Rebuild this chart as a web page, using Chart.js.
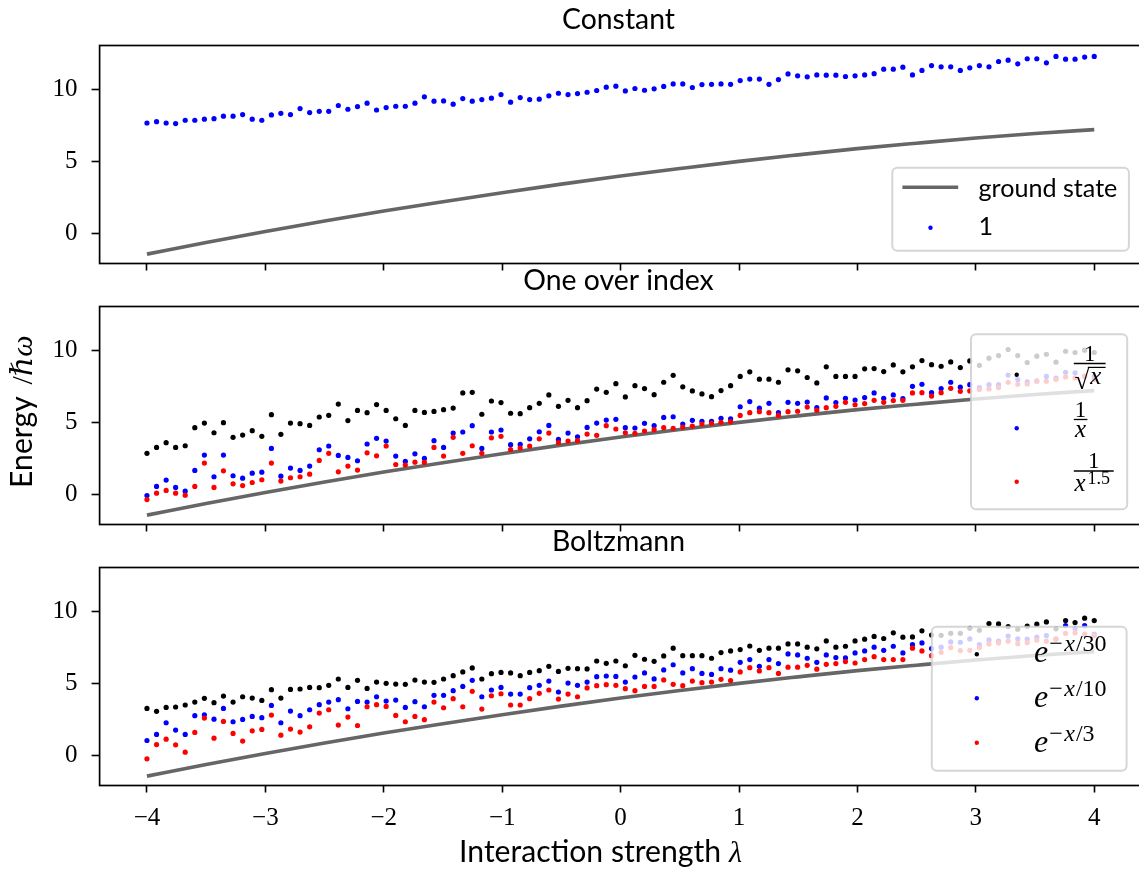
<!DOCTYPE html>
<html><head><meta charset="utf-8">
<script src="https://cdn.jsdelivr.net/npm/chart.js@4.4.0/dist/chart.umd.min.js"></script>
<style>
html,body{margin:0;padding:0;background:#fff;overflow:hidden;width:1139px;height:871px;}
canvas{position:absolute;left:0;top:0;}
</style></head><body>
<canvas id="c1" width="1145" height="871"></canvas>
<canvas id="c2" width="1145" height="871"></canvas>
<canvas id="c3" width="1145" height="871"></canvas>
<script>
// ---------------- data ----------------
const lambdaValues = [-4.000,-3.919,-3.838,-3.758,-3.677,-3.596,-3.515,-3.434,-3.354,-3.273,-3.192,-3.111,-3.030,-2.949,-2.869,-2.788,-2.707,-2.626,-2.545,-2.465,-2.384,-2.303,-2.222,-2.141,-2.061,-1.980,-1.899,-1.818,-1.737,-1.657,-1.576,-1.495,-1.414,-1.333,-1.253,-1.172,-1.091,-1.010,-0.929,-0.848,-0.768,-0.687,-0.606,-0.525,-0.444,-0.364,-0.283,-0.202,-0.121,-0.040,0.040,0.121,0.202,0.283,0.364,0.444,0.525,0.606,0.687,0.768,0.848,0.929,1.010,1.091,1.172,1.253,1.333,1.414,1.495,1.576,1.657,1.737,1.818,1.899,1.980,2.061,2.141,2.222,2.303,2.384,2.465,2.545,2.626,2.707,2.788,2.869,2.949,3.030,3.111,3.192,3.273,3.354,3.434,3.515,3.596,3.677,3.758,3.838,3.919,4.000];

const groundX = [-4,-3.5,-3,-2.5,-2,-1.5,-1,-0.5,0,0.5,1,1.5,2,2.5,3,3.5,4];
const groundState = [-1.43,-0.63,0.14,0.87,1.56,2.2,2.82,3.42,3.98,4.5,5.0,5.45,5.88,6.26,6.62,6.93,7.2];

const constantOne = [7.66,7.75,7.66,7.62,7.85,7.85,7.92,7.96,8.13,8.13,8.24,7.92,7.85,8.22,8.33,8.24,8.66,8.38,8.47,8.47,8.87,8.61,8.80,9.03,8.56,8.73,8.82,8.82,9.03,9.47,9.17,9.19,8.96,9.35,9.17,9.28,9.38,9.63,9.10,9.42,9.28,9.31,9.54,9.72,9.63,9.70,9.79,9.91,10.14,
10.21,9.88,10.05,9.93,10.03,10.19,10.37,10.37,10.12,10.32,10.34,10.37,10.34,10.60,10.70,10.70,10.34,10.67,11.06,10.93,10.86,10.99,10.97,10.97,10.88,10.93,10.99,11.08,11.39,11.39,11.53,10.99,11.30,11.64,11.55,11.55,11.30,11.48,11.64,11.55,11.92,12.01,11.76,12.11,12.11,11.83,12.27,12.08,12.08,12.23,12.27];

const invSqrtX = [2.85,3.26,3.59,3.26,3.38,4.63,4.95,4.28,4.98,3.96,4.12,4.42,4.03,5.53,4.17,4.95,4.91,4.79,5.37,5.49,6.27,5.12,5.83,5.67,6.23,5.83,5.25,4.79,5.83,5.69,5.76,5.88,5.99,7.04,7.08,5.56,6.48,6.37,5.63,5.60,6.02,6.32,6.90,6.11,6.53,6.02,6.50,7.31,7.08,
7.68,6.76,7.54,7.34,6.92,7.78,8.26,7.46,7.18,6.97,6.78,7.20,7.54,8.18,8.50,7.99,7.99,7.78,8.64,8.57,8.11,7.73,8.85,8.18,8.18,8.18,8.71,8.73,8.52,8.98,8.50,8.85,9.28,9.00,8.89,9.19,8.80,9.26,8.95,9.45,9.63,10.05,9.63,9.14,9.59,9.72,9.17,9.93,9.84,10.0,9.84];

const invX = [-0.07,0.56,1.00,0.49,0.23,1.67,2.73,1.23,2.73,1.30,1.13,1.48,1.55,3.19,1.27,1.83,1.67,1.97,3.10,3.36,2.71,2.57,2.34,3.50,3.89,3.70,2.66,2.29,2.82,2.50,3.73,3.26,4.26,4.33,4.77,3.19,4.33,4.47,3.45,3.47,3.86,4.35,4.79,3.82,4.26,4.00,4.65,4.95,5.16,
5.21,4.63,4.61,4.93,4.77,5.34,5.39,4.88,5.14,5.07,5.07,5.28,5.24,6.08,6.44,5.98,6.32,5.67,6.39,6.32,6.41,6.02,6.69,6.37,6.67,6.55,6.72,7.04,6.67,6.90,6.65,7.50,7.64,7.06,7.34,7.78,7.44,7.61,7.41,7.61,7.61,8.28,7.97,7.80,7.87,8.18,8.06,8.47,8.43,8.21,8.18];

const invX15 = [-0.35,0.09,0.28,0.09,-0.05,0.56,2.18,0.49,1.64,0.74,0.62,0.83,1.02,2.18,0.93,1.16,1.23,1.41,2.36,2.85,1.57,1.97,1.69,2.89,2.68,3.36,2.08,2.04,2.24,2.22,3.26,2.66,3.96,2.85,3.38,2.85,3.93,4.03,3.12,3.22,3.36,3.86,4.26,3.59,3.70,3.73,4.19,4.10,4.77,
4.54,4.28,4.24,4.40,4.49,4.63,4.59,4.67,4.74,4.88,4.93,5.00,5.05,5.48,5.67,5.74,5.67,5.48,5.74,5.77,6.06,5.84,6.02,6.11,6.39,6.22,6.30,6.53,6.39,6.51,6.53,7.04,7.06,6.82,7.06,7.36,7.15,7.18,7.27,7.32,7.41,7.78,7.64,7.66,7.85,7.85,7.97,8.15,8.08,8.18,7.97];

const boltz30 = [3.26,3.06,3.33,3.36,3.50,3.70,3.96,3.66,4.12,3.70,4.07,3.98,3.82,4.56,3.98,4.58,4.61,4.72,4.70,4.86,5.30,4.72,5.21,4.65,5.09,5.00,4.95,4.93,5.23,5.09,5.07,5.30,5.53,5.79,6.07,5.30,5.67,5.76,5.72,5.53,5.76,5.88,6.18,5.83,6.04,6.02,6.00,6.55,6.39,
6.55,6.22,6.94,6.67,6.53,6.90,7.44,6.92,6.92,6.92,6.74,7.13,7.25,7.34,7.59,7.29,7.44,7.44,7.73,7.73,7.51,7.39,7.94,7.51,7.57,7.94,8.06,8.25,8.11,8.50,8.20,8.22,8.64,8.35,8.33,8.47,8.47,8.82,8.68,9.14,9.12,8.94,8.75,8.96,9.10,9.26,8.78,9.35,9.21,9.52,9.35];

const boltz10 = [1.04,1.46,2.27,1.76,1.46,2.76,2.82,2.52,3.26,2.34,2.50,2.71,2.62,3.47,2.27,3.08,2.76,3.17,3.52,3.70,3.87,3.24,3.75,3.70,4.07,3.77,3.84,3.33,3.73,3.38,4.17,4.17,4.49,4.79,5.21,4.07,4.54,4.72,4.26,4.26,4.70,4.86,5.16,4.40,5.02,4.86,5.09,5.46,5.51,
5.48,5.09,5.44,5.72,5.31,5.93,6.29,5.72,6.02,5.69,5.62,6.02,5.91,6.46,6.65,6.18,6.65,6.37,7.04,6.97,6.74,6.46,6.97,6.79,6.76,7.11,7.25,7.51,7.29,7.57,7.11,7.68,7.80,7.41,7.51,7.87,7.85,8.08,7.68,8.01,7.92,8.28,8.08,8.06,8.20,8.31,8.08,9.00,8.78,9.00,8.42];

const boltz3 = [-0.23,0.76,1.13,0.74,0.23,1.60,2.59,1.20,2.36,1.53,1.00,1.71,1.81,2.80,1.41,1.83,1.62,1.99,2.94,3.17,2.11,2.66,2.08,3.38,3.52,3.40,2.78,2.34,2.71,2.48,3.70,3.31,3.94,3.38,4.45,3.22,4.14,4.28,3.50,3.50,3.94,4.31,4.54,3.91,4.26,4.07,4.68,4.84,4.91,
4.86,4.63,4.49,4.79,4.79,5.24,4.93,4.84,5.16,5.05,5.09,5.28,5.19,5.79,6.09,5.86,6.09,5.69,6.12,6.12,6.25,5.98,6.32,6.37,6.51,6.41,6.65,6.85,6.65,6.65,6.65,7.44,7.25,6.92,7.15,7.48,7.27,7.29,7.48,7.73,7.80,7.92,7.75,7.82,7.99,7.92,8.06,8.47,8.50,8.42,8.31];

const xTicks = [-4,-3,-2,-1,0,1,2,3,4];
const yTicks = [0,5,10];
const panelTitles = ['Constant','One over index','Boltzmann'];

// ---------------- layout / style ----------------
const CW = 1145, CH = 871;
const PANEL_TOP = [45.5, 306.5, 567.5];
const PANEL_H = 218;
const AX_LEFT = 99.6, AX_RIGHT = 1141.6;
const X_MIN = -4.4, X_MAX = 4.4;
const Y_MIN = -2.08, Y_MAX = 13.03;
const SANS = '"Lato", "Noto Sans", sans-serif';
const SERIF = '"Liberation Serif", "DejaVu Serif", serif';
const GREY = '#666666';

function fmt(v){ return v < 0 ? '\u2212' + Math.abs(v) : String(v); }
function pts(ys){ return lambdaValues.map((x,i)=>({x:x, y:ys[i]})); }
function dots(label, ys, color, order){
  return {label, data: pts(ys), showLine:false, pointRadius:2.6, pointHoverRadius:2.6,
          pointBorderWidth:0, backgroundColor:color, borderColor:color, order};
}
function groundDs(){
  return {label:'ground state', data: groundX.map((x,i)=>({x:x, y:groundState[i]})),
          borderColor:GREY, borderWidth:3.6, pointRadius:0, cubicInterpolationMode:'monotone',
          fill:false, order:10};
}

function fitSize(ctx, str, family, target, style){
  ctx.font = (style||'') + ' 100px ' + family;
  return 100 * target / ctx.measureText(str).width;
}

function legendBox(ctx, x, y, w, h){
  ctx.beginPath(); ctx.roundRect(x, y, w, h, 5);
  ctx.fillStyle = 'rgba(255,255,255,0.8)'; ctx.fill();
  ctx.strokeStyle = 'rgba(204,204,204,0.8)'; ctx.lineWidth = 2; ctx.stroke();
}
function dot(ctx, x, y, c){ ctx.beginPath(); ctx.arc(x, y, 2.2, 0, Math.PI*2); ctx.fillStyle = c; ctx.fill(); }
function put(ctx, s, x, y, font, align){
  ctx.font = font; ctx.textAlign = align || 'left'; ctx.textBaseline = 'alphabetic';
  ctx.fillStyle = '#000'; ctx.fillText(s, x, y); return ctx.measureText(s).width;
}
function hline(ctx, x1, x2, y, w){ ctx.strokeStyle='#000'; ctx.lineWidth=w||1.3; ctx.beginPath(); ctx.moveTo(x1,y); ctx.lineTo(x2,y); ctx.stroke(); }

const decor = {
  id: 'decor',
  afterDraw(chart, args, opts){
    const ctx = chart.ctx, a = chart.chartArea;
    ctx.save();
    ctx.strokeStyle = '#000'; ctx.lineWidth = 1.7;
    ctx.strokeRect(a.left, a.top, a.right - a.left, a.bottom - a.top);
    const ts = fitSize(ctx, 'Constant', SANS, 113);
    put(ctx, opts.title, 618.5, a.top - 16.2, ts + 'px ' + SANS, 'center');
    if (opts.legend) opts.legend(ctx);
    if (opts.extra) opts.extra(ctx);
    ctx.restore();
  }
};

function legend1(ctx){
  legendBox(ctx, 892.3, 167.7, 236.6, 83);
  ctx.strokeStyle = GREY; ctx.lineWidth = 3.6; ctx.beginPath(); ctx.moveTo(902.4,187.3); ctx.lineTo(958.2,187.3); ctx.stroke();
  const s = fitSize(ctx, 'ground state', SANS, 139);
  put(ctx, 'ground state', 978.5, 196.7, s + 'px ' + SANS);
  dot(ctx, 930.5, 227.7, '#0000ff');
  put(ctx, '1', 978.5, 235, s + 'px ' + SANS);
}
function legend2(ctx){
  legendBox(ctx, 971, 334.3, 156.2, 175);
  dot(ctx, 1016.7, 374.7, '#000000');
  dot(ctx, 1016.7, 428.3, '#0000ff');
  dot(ctx, 1016.7, 481.7, '#ff0000');
  const F = '23px ' + SERIF, FI = 'italic 25px ' + SERIF;
  // 1 / sqrt(x)
  put(ctx, '1', 1089.7, 360.5, F, 'center');
  hline(ctx, 1073.8, 1105.6, 363.5);
  const w = put(ctx, '\u221A', 1074.5, 388.5, '27px ' + SERIF);
  put(ctx, 'x', 1074.5 + w + 1, 384, FI);
  hline(ctx, 1074.5 + w - 1.5, 1105.6, 367.4, 1.2);
  // 1 / x
  put(ctx, '1', 1080.6, 416.7, F, 'center');
  hline(ctx, 1073.8, 1087.4, 419.5);
  put(ctx, 'x', 1080.6, 437, FI, 'center');
  // 1 / x^1.5
  put(ctx, '1', 1093.7, 468.3, F, 'center');
  hline(ctx, 1073.8, 1113.7, 471);
  const wx = put(ctx, 'x', 1074.5, 491, FI);
  put(ctx, '1.5', 1074.5 + wx + 2, 483.5, '18px ' + SERIF);
}
function expLabel(ctx, y, den){
  const we = put(ctx, 'e', 1034, y, 'italic 32px ' + SERIF);
  let x = 1034 + we + 1;
  const sf = '24px ' + SERIF, sfi = 'italic 24px ' + SERIF;
  x += put(ctx, '\u2212', x, y - 10.5, sf) + 1.5;
  x += put(ctx, 'x', x, y - 10.5, sfi) + 1;
  put(ctx, '/' + den, x, y - 10.5, sf);
}
function legend3(ctx){
  legendBox(ctx, 931.8, 626.7, 194.8, 144);
  dot(ctx, 976.8, 654.3, '#000000');
  dot(ctx, 976.8, 698.3, '#0000ff');
  dot(ctx, 976.8, 742.7, '#ff0000');
  expLabel(ctx, 661.7, '30');
  expLabel(ctx, 706.7, '10');
  expLabel(ctx, 751.7, '3');
}
function labelSize(ctx){
  ctx.font = '100px ' + SANS; const a = ctx.measureText('Interaction strength ').width;
  ctx.font = 'italic 100px ' + SERIF; const b = ctx.measureText('\u03BB').width;
  return 100 * 283 / (a + b);
}
function yLabel(ctx){
  const s = labelSize(ctx);
  ctx.save();
  ctx.translate(32.3, 411.7); ctx.rotate(-Math.PI/2);
  ctx.font = s + 'px ' + SANS; const w1 = ctx.measureText('Energy ').width + 4;
  ctx.font = s + 'px ' + SERIF; const w2 = ctx.measureText('/').width;
  ctx.font = 'italic ' + s + 'px ' + SERIF; const w3 = ctx.measureText('\u210F\u03C9').width;
  let x = -(w1 + w2 + w3) / 2;
  put(ctx, 'Energy ', x, 0, s + 'px ' + SANS); x += w1;
  x += put(ctx, '/', x, 0, s + 'px ' + SERIF);
  put(ctx, '\u210F\u03C9', x, 0, 'italic ' + s + 'px ' + SERIF);
  ctx.restore();
}
function xLabel(ctx){
  const s = labelSize(ctx);
  ctx.font = s + 'px ' + SANS; const w1 = ctx.measureText('Interaction strength ').width;
  ctx.font = 'italic ' + s + 'px ' + SERIF; const w2 = ctx.measureText('\u03BB').width;
  let x = 600.5 - (w1 + w2) / 2;
  x += put(ctx, 'Interaction strength ', x, 861.7, s + 'px ' + SANS);
  put(ctx, '\u03BB', x, 861.7, 'italic ' + s + 'px ' + SERIF);
}

function makeChart(id, idx, datasets, opts){
  const isBottom = idx === 2;
  const xH = isBottom ? 60 : 10;
  const bottomPad = CH - (PANEL_TOP[idx] + PANEL_H) - xH;
  return new Chart(document.getElementById(id), {
    type: 'line',
    data: {datasets},
    options: {
      responsive: false, animation: false, devicePixelRatio: 1,
      layout: {autoPadding: false, padding: {top: PANEL_TOP[idx], left: 0, right: CW - AX_RIGHT, bottom: bottomPad}},
      plugins: {legend: {display: false}, tooltip: {enabled: false}, decor: opts},
      scales: {
        x: {type: 'linear', min: X_MIN, max: X_MAX,
            afterBuildTicks: s => { s.ticks = xTicks.map(v => ({value: v})); },
            afterFit: s => { s.height = xH; },
            grid: {drawOnChartArea: false, drawTicks: true, tickLength: 7, tickWidth: 1.6, tickColor: '#000'},
            border: {display: false},
            ticks: {display: isBottom, font: {family: SERIF, size: 25}, color: '#000', padding: 11,
                    maxRotation: 0, autoSkip: false, callback: v => fmt(v)}},
        y: {type: 'linear', min: Y_MIN, max: Y_MAX,
            afterBuildTicks: s => { s.ticks = yTicks.map(v => ({value: v})); },
            afterFit: s => { s.width = AX_LEFT; },
            grid: {drawOnChartArea: false, drawTicks: true, tickLength: 8, tickWidth: 1.6, tickColor: '#000'},
            border: {display: false},
            ticks: {font: {family: SERIF, size: 25}, color: '#000', padding: 14, autoSkip: false, callback: v => fmt(v)}}
      }
    },
    plugins: [decor]
  });
}

makeChart('c1', 0, [groundDs(), dots('1', constantOne, '#0000ff', 1)],
  {title: panelTitles[0], legend: legend1});
makeChart('c2', 1, [groundDs(), dots('1/sqrt(x)', invSqrtX, '#000000', 3), dots('1/x', invX, '#0000ff', 2), dots('1/x^1.5', invX15, '#ff0000', 1)],
  {title: panelTitles[1], legend: legend2, extra: yLabel});
makeChart('c3', 2, [groundDs(), dots('exp(-x/30)', boltz30, '#000000', 3), dots('exp(-x/10)', boltz10, '#0000ff', 2), dots('exp(-x/3)', boltz3, '#ff0000', 1)],
  {title: panelTitles[2], legend: legend3, extra: xLabel});
</script>
</body></html>
